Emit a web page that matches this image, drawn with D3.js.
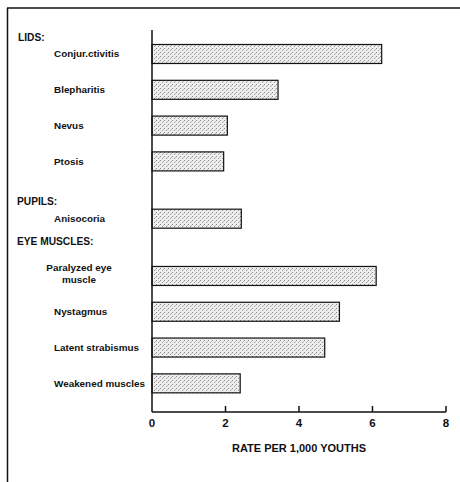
<!DOCTYPE html>
<html>
<head>
<meta charset="utf-8">
<script src="https://cdn.jsdelivr.net/npm/d3@7"></script>
<style>
  body { margin: 0; background: #fff; }
  text { font-family: "Liberation Sans", Arial, sans-serif; font-weight: bold; fill: #111; }
</style>
</head>
<body>
<svg id="chart" width="460" height="482"></svg>
<script>
// group headers and the items under each
const groups = ['LIDS:', 'PUPILS:', 'EYE MUSCLES:'];
const categories = ['Conjur.ctivitis', 'Blepharitis', 'Nevus', 'Ptosis',
  'Anisocoria',
  'Paralyzed eye|muscle', 'Nystagmus', 'Latent strabismus', 'Weakened muscles'];
const groupOf = [0, 0, 0, 0, 1, 2, 2, 2, 2];
const values = [6.25, 3.43, 2.05, 1.95, 2.43, 6.1, 5.1, 4.7, 2.4];
const ticks = [0, 2, 4, 6, 8];
const axisTitle = 'RATE PER 1,000 YOUTHS';

const svg = d3.select('#chart');

// stipple fill for bars
const defs = svg.append('defs');
const pat = defs.append('pattern')
  .attr('id', 'dots')
  .attr('patternUnits', 'userSpaceOnUse')
  .attr('width', 4).attr('height', 4);
pat.append('rect').attr('width', 4).attr('height', 4).attr('fill', '#eeeeee');
pat.append('rect').attr('x', 0).attr('y', 0).attr('width', 1).attr('height', 1).attr('fill', '#888');
pat.append('rect').attr('x', 2).attr('y', 2).attr('width', 1).attr('height', 1).attr('fill', '#999');
pat.append('rect').attr('x', 3).attr('y', 1).attr('width', 1).attr('height', 1).attr('fill', '#bbb');

// frame lines (top and left only)
svg.append('line').attr('x1', 7).attr('x2', 460).attr('y1', 8).attr('y2', 8)
  .attr('stroke', '#111').attr('stroke-width', 1.5);
svg.append('line').attr('x1', 7.5).attr('x2', 7.5).attr('y1', 8).attr('y2', 482)
  .attr('stroke', '#111').attr('stroke-width', 1.5);

const x = d3.scaleLinear().domain([0, 8]).range([152, 446]);

// row position: item index plus extra space for each new group header
const rowPos = categories.map((c, i) => i + 0.6 * groupOf[i]);
const y = d3.scaleLinear().domain([0, 1]).range([54, 54 + 35.8]);
const barH = 19;

// bars
svg.selectAll('rect.bar')
  .data(values)
  .enter()
  .append('rect')
  .attr('class', 'bar')
  .attr('x', x(0))
  .attr('y', (d, i) => y(rowPos[i]) - barH / 2)
  .attr('width', d => x(d) - x(0))
  .attr('height', barH)
  .attr('fill', 'url(#dots)')
  .attr('stroke', '#111')
  .attr('stroke-width', 1.2);

// category labels
svg.selectAll('text.cat')
  .data(categories)
  .enter()
  .append('text')
  .attr('class', 'cat')
  .attr('font-size', 9.9)
  .each(function (d, i) {
    const lines = d.split('|');
    const t = d3.select(this);
    const cy = y(rowPos[i]) - (lines.length - 1) * 2;
    if (lines.length === 1) {
      t.attr('x', 54).attr('y', cy).attr('dy', '0.35em').text(d);
    } else {
      t.attr('text-anchor', 'middle');
      lines.forEach((l, k) => {
        t.append('tspan').attr('x', 79)
          .attr('y', cy + (k - (lines.length - 1) / 2) * 12)
          .attr('dy', '0.35em').text(l);
      });
    }
  });

// group headers, placed above the first item of each group
svg.selectAll('text.grp')
  .data(groups)
  .enter()
  .append('text')
  .attr('class', 'grp')
  .attr('font-size', 10.2)
  .attr('x', (d, g) => g === 0 ? 18 : 17)
  .attr('y', (d, g) => {
    const first = groupOf.indexOf(g);
    const lines = categories[first].split('|').length;
    return y(rowPos[first]) - 17 - (lines - 1) * 18;
  })
  .attr('dy', '0.35em')
  .text(d => d);

// vertical axis line
svg.append('line')
  .attr('x1', x(0)).attr('x2', x(0))
  .attr('y1', 30).attr('y2', 412)
  .attr('stroke', '#111').attr('stroke-width', 1.5);

// x axis
const xAxis = svg.append('g').attr('transform', 'translate(0,412)');
xAxis.append('line')
  .attr('x1', x(0)).attr('x2', x(8))
  .attr('stroke', '#111').attr('stroke-width', 1.5);
xAxis.selectAll('line.tick')
  .data(ticks.slice(1))
  .enter()
  .append('line')
  .attr('class', 'tick')
  .attr('x1', d => x(d)).attr('x2', d => x(d))
  .attr('y1', 0).attr('y2', -6)
  .attr('stroke', '#111').attr('stroke-width', 1.5);
xAxis.selectAll('text')
  .data(ticks)
  .enter()
  .append('text')
  .attr('x', d => x(d))
  .attr('y', 15)
  .attr('text-anchor', 'middle')
  .attr('font-size', 11.5)
  .text(d => d);

svg.append('text')
  .attr('x', x(4))
  .attr('y', 448)
  .attr('dy', '0.35em')
  .attr('text-anchor', 'middle')
  .attr('font-size', 11)
  .text(axisTitle);
</script>
</body>
</html>
